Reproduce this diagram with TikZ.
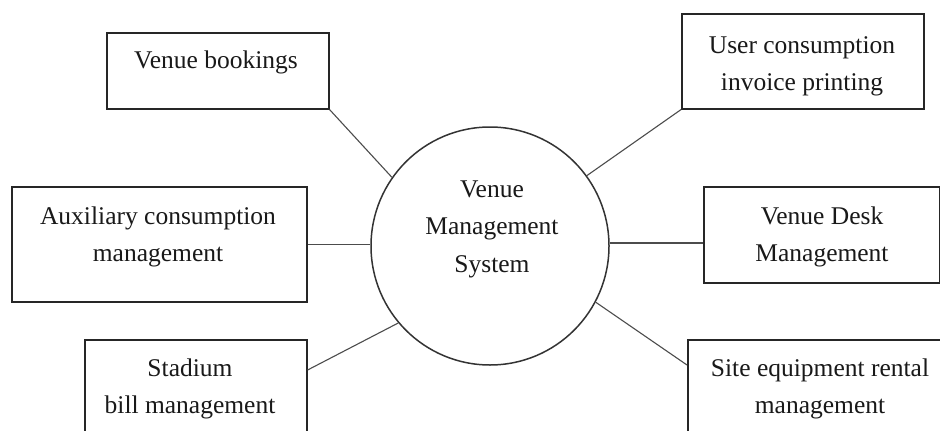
\documentclass[tikz,border=0pt]{standalone}
\usepackage{fontspec}
\setmainfont{Liberation Serif}
\usetikzlibrary{calc}
\begin{document}
\begin{tikzpicture}[x=1pt,y=-1pt,
  boxnode/.style={draw=black!85,line width=1.6pt,rectangle,anchor=north west,inner sep=0pt},
  lbl/.style={anchor=base,align=center,inner sep=0pt,font=\fontsize{25.5}{37}\selectfont,text=black!90},
  conn/.style={draw=black!70,line width=1.1pt}]
\useasboundingbox (0,0) rectangle (940,431);
\fill[white] (0,0) rectangle (940,431);
% central circle
\node[circle,draw=black!80,line width=1.5pt,minimum size=238pt,inner sep=0pt] (c) at (490,246) {};
\node[lbl,font=\fontsize{25.5}{37.5}\selectfont] (ct) at (492,272) {Venue\\Management\\System};
% boxes
\node[boxnode,minimum width=222pt,minimum height=76pt] (b1) at (106,32) {};
\node[boxnode,minimum width=242pt,minimum height=95pt] (b2) at (681,13) {};
\node[boxnode,minimum width=295pt,minimum height=115pt] (b3) at (11,186) {};
\node[boxnode,minimum width=236pt,minimum height=96pt] (b4) at (703,186) {};
\node[boxnode,minimum width=222pt,minimum height=120pt] (b5) at (84,339) {};
\node[boxnode,minimum width=266pt,minimum height=120pt] (b6) at (687,339) {};
% texts (base anchor = baseline of the last line)
\node[lbl] (t1) at (216,68) {Venue bookings};
\node[lbl] (t2) at (802,90) {User consumption\\invoice printing};
\node[lbl] (t3) at (158,261) {Auxiliary consumption\\management};
\node[lbl] (t4) at (822,261) {Venue Desk\\Management};
\node[lbl] (t5) at (190,413) {Stadium\\bill management};
\node[lbl] (t6) at (820,413) {Site equipment rental\\management};
% connector end points
\coordinate (p4) at ($(b4.north west)+(0,57)$);
\coordinate (p5) at ($(b5.north east)+(0,31)$);
\coordinate (p6) at ($(b6.north west)+(0,26)$);
% connectors
\draw[conn] (b1.south east) -- (c.145);
\draw[conn] (b2.south west) -- (c.36);
\draw[conn] (b3.east) -- (b3.east -| c.west);
\draw[conn] (p4) -- (p4 -| c.east);
\draw[conn] (p5) -- (c.220);
\draw[conn] (p6) -- (c.332);
\end{tikzpicture}
\end{document}
